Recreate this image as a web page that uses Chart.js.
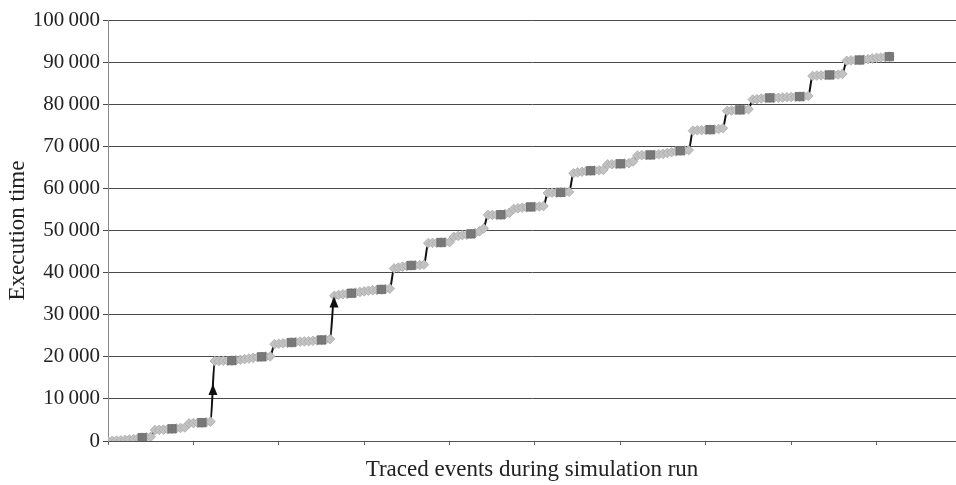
<!DOCTYPE html>
<html>
<head>
<meta charset="utf-8">
<script src="https://cdn.jsdelivr.net/npm/chart.js@4/dist/chart.umd.min.js"></script>
<style>
  html, body { margin: 0; padding: 0; background: #fff; }
  #wrap { width: 956px; height: 485px; }
</style>
</head>
<body>
<div id="wrap"><canvas id="c" width="956" height="485"></canvas></div>
<script>
// Execution time of each traced event (event index = position in the array)
const execTime = [
  0, 50, 100, 150, 250, 350, 450, 600, 800, 900, 1000,
  2600, 2650, 2700, 2800, 2900, 3000, 3100, 3200,
  4200, 4250, 4300, 4350, 4450, 4600,
  19000, 19000, 19050, 19050, 19100, 19200, 19300, 19450, 19600, 19750, 19900, 20000, 20050, 20100,
  23000, 23100, 23200, 23300, 23400, 23500, 23600, 23650, 23700, 23800, 23900, 24000, 24100, 24200,
  34500, 34700, 34850, 34950, 35100, 35250, 35400, 35550, 35700, 35800, 35900, 36000, 36100, 36200,
  41000, 41200, 41400, 41550, 41700, 41750, 41800, 41900,
  47000, 47050, 47100, 47150, 47200, 47250,
  48500, 48700, 48900, 49000, 49200, 49400, 49800, 50500,
  53700, 53700, 53700, 53750, 53900, 54200,
  55100, 55300, 55400, 55500, 55600, 55650, 55700, 55800,
  58900, 59000, 59000, 59050, 59100, 59200,
  63600, 63800, 63950, 64100, 64200, 64250, 64300, 64400,
  65700, 65750, 65800, 65850, 65900, 66000, 66400,
  67800, 67900, 67900, 67950, 68000, 68100, 68200, 68400, 68600, 68800, 68950, 69000, 69100,
  73700, 73800, 73850, 73900, 73950, 74000, 74100, 74300,
  78400, 78500, 78600, 78650, 78700, 78800,
  81100, 81200, 81350, 81450, 81500, 81500, 81550, 81600, 81650, 81700, 81750, 81800, 81850, 81950,
  86700, 86800, 86850, 86900, 86950, 87000, 87050, 87200,
  90300, 90400, 90450, 90500, 90600, 90700, 90850, 91000, 91100, 91200, 91300
];
// Events drawn as dark squares (checkpoints)
const checkpoints = [8, 15, 22, 29, 36, 43, 50, 57, 64, 71, 78, 85, 92, 99, 106, 113, 120, 127, 134, 141, 148, 155, 162, 169, 176, 183];
// Jumps marked with an arrow: [segment start event, fraction along the jump]
const arrowJumps = [[24, 0.58], [52, 0.93]];
// Axis
const yTicks = [0, 10000, 20000, 30000, 40000, 50000, 60000, 70000, 80000, 90000, 100000];
const xAxisMax = 198.6;
const xTickStep = 20;
const xTitle = 'Traced events during simulation run';
const yTitle = 'Execution time';

const points = execTime.map((v, i) => ({ x: i, y: v }));
const JUMP = 850;
const FONT = 'Liberation Serif';

function fmt(v) {
  const s = String(v);
  if (s.length <= 3) return s;
  return s.slice(0, s.length - 3) + '\u2009' + s.slice(s.length - 3);
}

const arrowPlugin = {
  id: 'arrows',
  afterDatasetsDraw(chart) {
    const meta = chart.getDatasetMeta(1);
    const ctx = chart.ctx;
    ctx.save();
    ctx.fillStyle = '#111';
    arrowJumps.forEach(([i, t]) => {
      const p0 = meta.data[i], p1 = meta.data[i + 1];
      const c1x = p0.cp2x ?? p0.x, c1y = p0.cp2y ?? p0.y;
      const c2x = p1.cp1x ?? p1.x, c2y = p1.cp1y ?? p1.y;
      const u = 1 - t;
      const x = u*u*u*p0.x + 3*u*u*t*c1x + 3*u*t*t*c2x + t*t*t*p1.x;
      const y = u*u*u*p0.y + 3*u*u*t*c1y + 3*u*t*t*c2y + t*t*t*p1.y;
      ctx.beginPath();
      ctx.moveTo(x, y);
      ctx.lineTo(x - 4.5, y + 11);
      ctx.lineTo(x + 4.5, y + 11);
      ctx.closePath();
      ctx.fill();
    });
    ctx.restore();
  }
};

new Chart(document.getElementById('c'), {
  type: 'line',
  data: {
    datasets: [
      {
        label: 'checkpoints',
        data: points,
        showLine: false,
        pointStyle: 'rect',
        pointRadius: (c) => checkpoints.includes(c.dataIndex) ? 5.9 : 0,
        pointBackgroundColor: '#787878',
        pointBorderColor: '#6c6c6c',
        pointBorderWidth: 0.8,
        order: 0
      },
      {
        label: 'events',
        data: points,
        showLine: true,
        cubicInterpolationMode: 'monotone',
        borderWidth: 2,
        borderColor: '#bdbdbd',
        segment: {
          borderColor: (c) => Math.abs(c.p1.parsed.y - c.p0.parsed.y) > JUMP ? '#111' : '#bdbdbd'
        },
        pointStyle: 'rectRot',
        pointRadius: 4.8,
        pointBackgroundColor: '#c2c2c2',
        pointBorderColor: '#aaaaaa',
        pointBorderWidth: 0.8,
        order: 1
      }
    ]
  },
  options: {
    responsive: false,
    animation: false,
    events: [],
    layout: { autoPadding: false, padding: { top: 20, right: 0, bottom: 0, left: 0 } },
    plugins: { legend: { display: false }, tooltip: { enabled: false } },
    scales: {
      x: {
        type: 'linear',
        min: 0,
        max: xAxisMax,
        afterFit(s) { s.height = 44; },
        ticks: { display: false, stepSize: xTickStep, includeBounds: false },
        grid: { drawOnChartArea: false, drawTicks: true, tickLength: 4, color: '#666' },
        border: { color: '#555', width: 1 },
        title: {
          display: true, text: xTitle, color: '#222',
          font: { family: FONT, size: 23 }, padding: { top: 14, bottom: 1 }
        }
      },
      y: {
        min: 0,
        max: 100000,
        afterFit(s) { s.width = 108; },
        afterBuildTicks(s) { s.ticks = yTicks.map(v => ({ value: v })); },
        ticks: {
          color: '#222', padding: 3,
          font: { family: FONT, size: 21 },
          callback: (v) => fmt(v)
        },
        grid: { color: '#4a4a4a', lineWidth: 1, tickLength: 5 },
        border: { color: '#888', width: 1 },
        title: {
          display: true, text: yTitle, color: '#222',
          font: { family: FONT, size: 23 }, padding: { top: 4, bottom: 3 }
        }
      }
    }
  },
  plugins: [arrowPlugin]
});
</script>
</body>
</html>
